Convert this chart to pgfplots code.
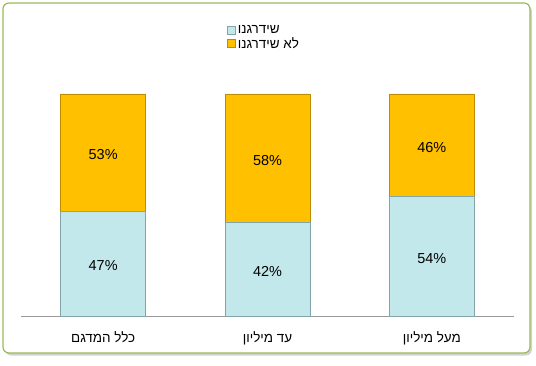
\documentclass[border=0pt]{standalone}
\usepackage{pgfplots}
\pgfplotsset{compat=1.18}
\usepackage{fontspec}
\setmainfont{Liberation Sans}
\newfontfamily\hebfont[Script=Hebrew]{Liberation Sans}
\TeXXeTstate=1
\usetikzlibrary{shadows}
\definecolor{upblue}{RGB}{195,232,235}
\definecolor{upblueD}{RGB}{130,165,170}
\definecolor{nogold}{RGB}{255,192,0}
\definecolor{nogoldD}{RGB}{190,140,0}
\definecolor{framegreen}{RGB}{155,187,89}
\begin{document}
\begin{tikzpicture}[x=1bp,y=1bp]
\path[use as bounding box] (0,0) rectangle (536,365);
\draw[framegreen, line width=1.2bp, rounded corners=6bp, fill=white,
  drop shadow={shadow xshift=2bp,shadow yshift=-2.5bp,opacity=0.35}] (3,12) rectangle (530,362);
\begin{axis}[
  at={(21bp,49bp)}, anchor=south west,
  scale only axis, width=493bp, height=222bp,
  ybar stacked, bar width=85bp,
  xmin=-0.5, xmax=2.5, ymin=0, ymax=100, enlargelimits=false,
  axis x line=bottom, axis y line=none,
  x axis line style={-, draw=gray!80, line width=0.8bp},
  xtick={0,1,2}, ytick=\empty, major tick length=0pt,
  xticklabels={{\beginR כלל המדגם\endR},{\beginR עד מיליון\endR},{\beginR מעל מיליון\endR}},
  tick label style={font=\hebfont\fontsize{13.5}{15}\selectfont},
  xticklabel style={yshift=-12bp},
  /pgf/number format/assume math mode=true,
  visualization depends on=rawy \as \myrawy,
  nodes near coords={\pgfmathprintnumber{\myrawy}\%},
  every node near coord/.append style={font=\fontsize{14.5}{16}\selectfont, anchor=center, yshift=-2bp},
  legend style={at={(0.416,1.325)}, anchor=north west, draw=none, fill=none,
     font=\hebfont\fontsize{13.5}{15}\selectfont, cells={anchor=west}, row sep=-1pt,
     inner sep=1bp},
  legend image code/.code={\draw[#1, line width=0.6bp] (0bp,-4bp) rectangle (8bp,4bp);},
]
\addplot[fill=upblue, draw=upblueD, line width=0.8bp] coordinates {(0,47) (1,42) (2,54)};
\addplot[fill=nogold, draw=nogoldD, line width=0.8bp] coordinates {(0,53) (1,58) (2,46)};
\legend{{\beginR שידרגנו\endR},{\beginR לא שידרגנו\endR}}
\end{axis}
\end{tikzpicture}
\end{document}
